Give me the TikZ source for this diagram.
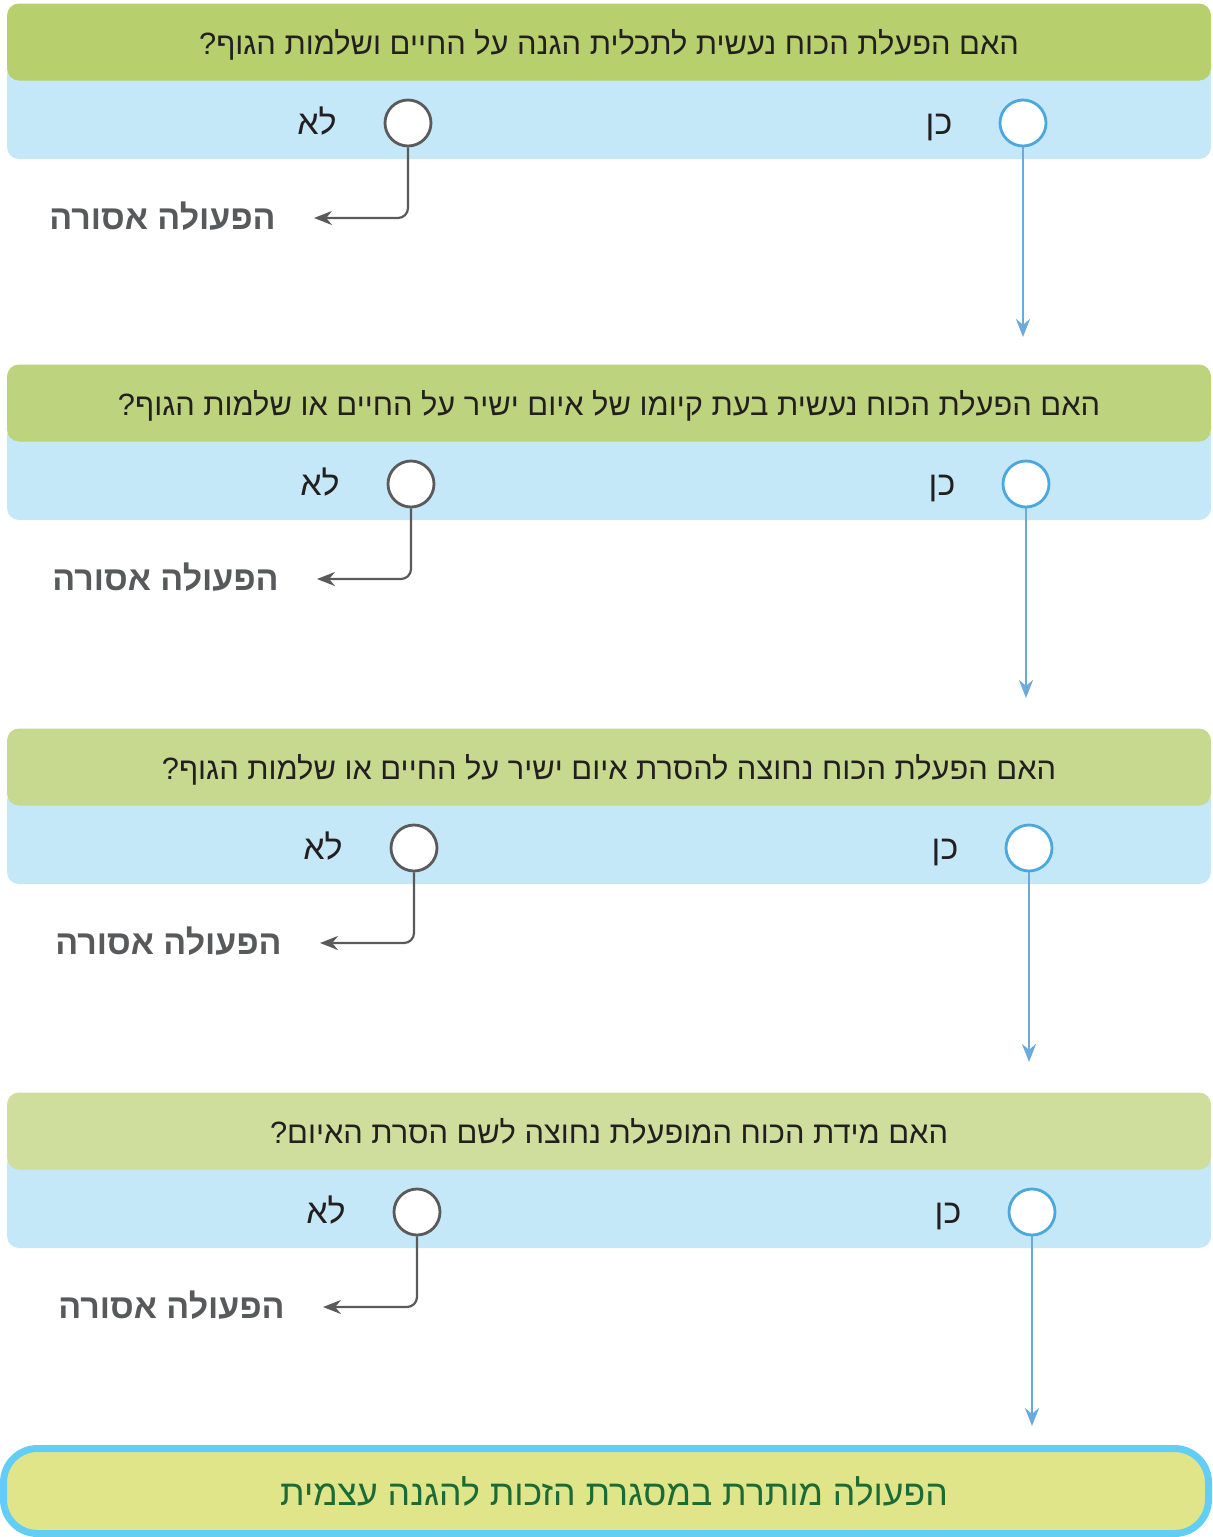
\documentclass[tikz,border=0pt]{standalone}
\usepackage{fontspec}
\usetikzlibrary{arrows.meta}
\newfontfamily\hebfont[Script=Hebrew]{Liberation Sans}
\TeXXeTstate=1

\definecolor{greenA}{HTML}{B8CF6D}
\definecolor{greenB}{HTML}{BED37D}
\definecolor{greenC}{HTML}{C7D98F}
\definecolor{greenD}{HTML}{CFDE9D}
\definecolor{answerblue}{HTML}{C5E8F8}
\definecolor{yesblue}{HTML}{4AA8DE}
\definecolor{yesline}{HTML}{6AAADD}
\definecolor{nogray}{HTML}{5A5A5A}
\definecolor{textdark}{HTML}{231F20}
\definecolor{forbgray}{HTML}{58595B}
\definecolor{finalfill}{HTML}{E0E58A}
\definecolor{finalborder}{HTML}{62CDF5}
\definecolor{finaltext}{HTML}{1A6B37}

\tikzset{
  questionband/.style={rounded corners=6pt, minimum width=602pt, minimum height=38.5pt,
    text=textdark, font=\hebfont\fontsize{15.4}{18}\selectfont},
  answerband/.style={fill=answerblue, rounded corners=6pt, minimum width=602pt, minimum height=48pt},
  nodot/.style={circle, draw=nogray, fill=white, line width=1.4pt, minimum size=23pt, inner sep=0pt},
  yesdot/.style={circle, draw=yesblue, fill=white, line width=1.4pt, minimum size=23pt, inner sep=0pt},
  answertext/.style={anchor=base, text=textdark, font=\hebfont\fontsize{17}{20}\selectfont},
  forbidden/.style={text=forbgray, inner sep=0pt, font=\hebfont\bfseries\fontsize{17}{20}\selectfont},
  noarrow/.style={draw=nogray, line width=1.1pt, rounded corners=5pt, -{Stealth[length=9pt,width=7pt]}},
  yesarrow/.style={draw=yesline, line width=1.2pt, -{Stealth[length=9pt,width=7pt]}},
  finalbox/.style={draw=finalborder, fill=finalfill, line width=3.5pt, rounded corners=17pt,
    minimum width=602.5pt, minimum height=42.5pt, text=finaltext, font=\hebfont\fontsize{17.8}{20}\selectfont}
}

\begin{document}
\begin{tikzpicture}[x=0.5pt, y=-0.5pt]
  \useasboundingbox (0,0) rectangle (1212,1537);

  % Preguntas
  \foreach \i/\cy/\dx/\shade/\question in {
      1/123/0/greenA/{האם הפעלת הכוח נעשית לתכלית הגנה על החיים ושלמות הגוף?},
      2/484/3/greenB/{האם הפעלת הכוח נעשית בעת קיומו של איום ישיר על החיים או שלמות הגוף?},
      3/848/6/greenC/{האם הפעלת הכוח נחוצה להסרת איום ישיר על החיים או שלמות הגוף?},
      4/1212/9/greenD/{האם מידת הכוח המופעלת נחוצה לשם הסרת האיום?}} {
    \node[answerband] (band\i) at (609,\cy-12) {};
    \node[questionband, fill=\shade, text height=13pt, text depth=1pt] (q\i) at (609,\cy-81) {\beginR\question\endR};

    % Respuestas
    \node[nodot] (no\i) at (408+\dx,\cy) {};
    \node[yesdot] (yes\i) at (1023+\dx,\cy) {};
    \node[answertext] (nolabel\i) at (317+\dx,\cy+11) {\beginR לא\endR};
    \node[answertext] (yeslabel\i) at (939+\dx,\cy+11) {\beginR כן\endR};

    % Flechas
    \node[forbidden, anchor=east] (forb\i) at (276+\dx,\cy+93) {\beginR הפעולה אסורה\endR};
    \draw[noarrow] (no\i.south) |- ([xshift=19pt,yshift=-1pt]forb\i.east);
    \coordinate (tip\i) at ([yshift=-107pt]yes\i.center);
    \draw[yesarrow] (yes\i.south) -- (tip\i);
  }

  % Resultado
  \node[finalbox] (final) at (606,1491) {\hspace*{8pt}\beginR הפעולה מותרת במסגרת הזכות להגנה עצמית\endR};
\end{tikzpicture}
\end{document}
